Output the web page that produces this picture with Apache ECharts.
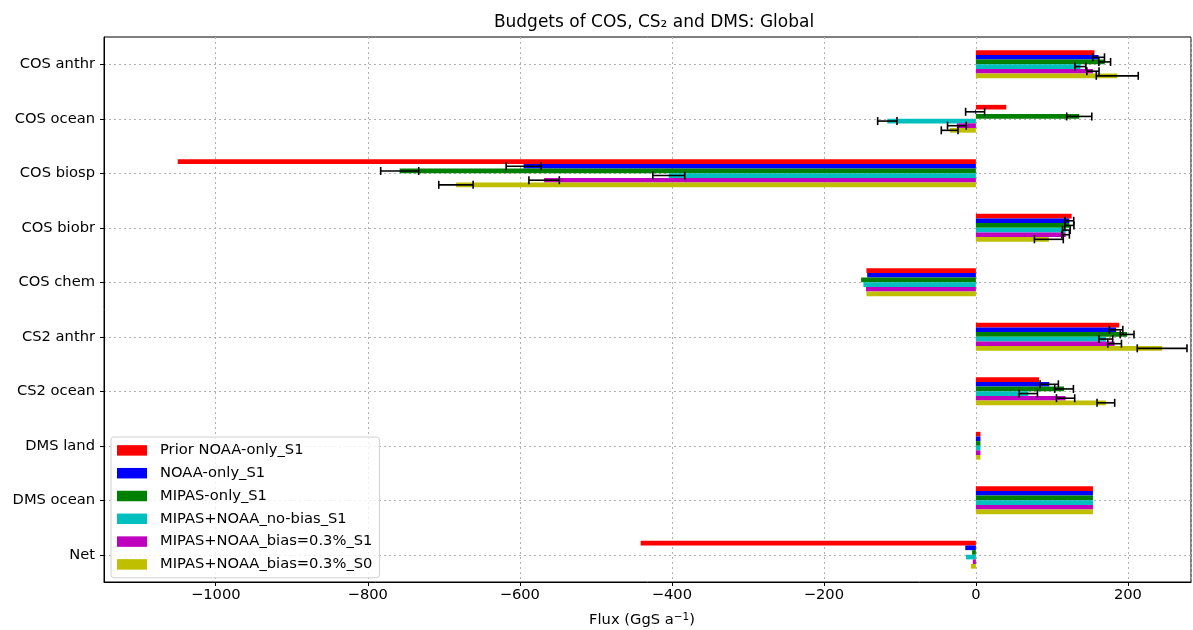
<!DOCTYPE html>
<html>
<head>
<meta charset="utf-8">
<script src="https://cdn.jsdelivr.net/npm/echarts@6/dist/echarts.min.js"></script>
<style>html,body{margin:0;padding:0;background:#fff}#chart{width:1193px;height:630px}</style>
</head>
<body>
<div id="chart"></div>
<script>
const categories = ['COS anthr','COS ocean','COS biosp','COS biobr','COS chem','CS2 anthr','CS2 ocean','DMS land','DMS ocean','Net'];
const seriesNames = ['Prior NOAA-only_S1','NOAA-only_S1','MIPAS-only_S1','MIPAS+NOAA_no-bias_S1','MIPAS+NOAA_bias=0.3%_S1','MIPAS+NOAA_bias=0.3%_S0'];
const colors = ['#ff0000','#0000ff','#008000','#00bfbf','#bf00bf','#bfbf00'];

const priorS1   = [156, 40, -1050, 126, -144, 188.5, 83, 6, 154, -441];
const noaaS1    = [161.5, -1, -595, 123, -143, 184.5, 96.5, 6, 154, -14];
const mipasS1   = [169.5, 136, -758, 123, -151, 199, 116, 6, 154, -5];
const noBiasS1  = [137.5, -116.5, -404, 119, -148, 171, 69, 6, 154, -13];
const biasS1    = [154, -25, -568, 118, -144.5, 182.5, 118, 6, 154, -4];
const biasS0    = [186, -34.5, -684, 96, -144, 245, 171, 6, 154, -6.5];

const priorErr  = [null, null, null, null, null, null, null, null, null, null];
const noaaErr   = [7.7, 12.5, 23, 5.7, null, 8.8, 12, null, null, null];
const mipasErr  = [7.7, 16.5, 25, 6, null, 9, 12.3, null, null, null];
const noBiasErr = [7.2, 12.7, 21, 5, null, 9, 12, null, null, null];
const biasErr   = [8, 12.3, 20, 5, null, 9, 12, null, null, null];
const bias0Err  = [27.6, 11, 22.6, 19, null, 32.7, 11.6, null, null, null];

const xTicks = [-1000, -800, -600, -400, -200, 0, 200];

const values = [priorS1, noaaS1, mipasS1, noBiasS1, biasS1, biasS0];
const errors = [priorErr, noaaErr, mipasErr, noBiasErr, biasErr, bias0Err];

const GAP = 0.49;
const FONT = 'DejaVu Sans';
const FS = 14.7;

const chart = echarts.init(document.getElementById('chart'));
const series = [];

// horizontal dotted grid lines at category centres
series.push({
  type: 'custom', name: '_grid', z: 0, silent: true,
  data: categories.map((c, i) => [0, i]),
  encode: {x: 0, y: 1},
  renderItem: function (params, api) {
    const cs = params.coordSys;
    const y = Math.round(api.coord([0, api.value(1)])[1]) + 0.5;
    return {type: 'line', shape: {x1: cs.x, y1: y, x2: cs.x + cs.width, y2: y},
      style: {stroke: '#b0b0b0', lineWidth: 1, lineDash: [2, 3]}};
  }
});

values.forEach((arr, k) => {
  series.push({
    type: 'bar', name: seriesNames[k], data: arr,
    itemStyle: {color: colors[k]},
    barGap: '0%', barCategoryGap: (GAP * 100) + '%', z: 2
  });
});

values.forEach((arr, k) => {
  const errData = [];
  arr.forEach((v, i) => { if (errors[k][i] != null) errData.push([v, i, errors[k][i]]); });
  if (!errData.length) return;
  series.push({
    type: 'custom', name: '_err' + k, z: 5, silent: true,
    data: errData,
    encode: {x: 0, y: 1},
    renderItem: function (params, api) {
      const v = api.value(0), c = api.value(1), e = api.value(2);
      const p = api.coord([v, c]);
      const band = api.size([0, 1])[1];
      const bw = band * (1 - GAP) / 6;
      const y = p[1] + (k - 2.5) * bw;
      const lo = api.coord([v - e, c])[0], hi = api.coord([v + e, c])[0];
      const cap = 4;
      const st = {stroke: '#000', lineWidth: 1.6};
      return {type: 'group', children: [
        {type: 'line', shape: {x1: lo, y1: y, x2: hi, y2: y}, style: st},
        {type: 'line', shape: {x1: lo, y1: y - cap, x2: lo, y2: y + cap}, style: st},
        {type: 'line', shape: {x1: hi, y1: y - cap, x2: hi, y2: y + cap}, style: st}
      ]};
    }
  });
});

chart.setOption({
  animation: false,
  textStyle: {fontFamily: FONT},
  grid: {left: 104, right: 2, top: 37, bottom: 48, show: true, borderColor: '#000', borderWidth: 1, containLabel: false},
  graphic: [
    {type: 'text', x: 654, y: 23, style: {text: 'Budgets of COS, CS\u2082 and DMS: Global', align: 'center', verticalAlign: 'middle', font: '17px "DejaVu Sans"', fill: '#000'}},
    {type: 'text', x: 642, y: 620, style: {
      text: '{a|Flux (GgS a}{s|\u22121}{a|)}', align: 'center', verticalAlign: 'middle',
      rich: {a: {fontSize: FS, fontFamily: FONT, fill: '#000', color: '#000'},
             s: {fontSize: 10.5, fontFamily: FONT, color: '#000', verticalAlign: 'top', padding: [0, 0, 6, 0]}}
    }}
  ],
  legend: {
    data: seriesNames, orient: 'vertical', left: 111, top: 437,
    itemWidth: 30, itemHeight: 10.5, itemGap: 6, icon: 'rect',
    padding: [5, 7, 5, 6],
    borderColor: '#d0d0d0', borderWidth: 1, borderRadius: 3,
    backgroundColor: 'rgba(255,255,255,0.8)',
    textStyle: {fontSize: FS, color: '#000', fontFamily: FONT, padding: [0, 0, 0, 8], lineHeight: 16.8}
  },
  xAxis: {
    type: 'value', min: -1147, max: 283, splitNumber: 7,
    axisLine: {show: true, onZero: false, lineStyle: {color: '#000'}},
    axisTick: {show: true, inside: false, length: 4, lineStyle: {color: '#000'}},
    axisLabel: {
      color: '#000', fontSize: FS, margin: 6, showMinLabel: false, showMaxLabel: false,
      formatter: v => xTicks.indexOf(v) >= 0 ? String(v).replace('-', '\u2212') : ''
    },
    splitLine: {show: true, lineStyle: {color: '#b0b0b0', type: [2, 3], width: 1}}
  },
  yAxis: {
    type: 'category', data: categories, inverse: true,
    axisLine: {show: true, onZero: false, lineStyle: {color: '#000'}},
    axisTick: {show: true, alignWithLabel: true, length: 4, lineStyle: {color: '#000'}},
    axisLabel: {color: '#000', fontSize: FS, margin: 9},
    splitLine: {show: false}
  },
  series: series
});
</script>
</body>
</html>
